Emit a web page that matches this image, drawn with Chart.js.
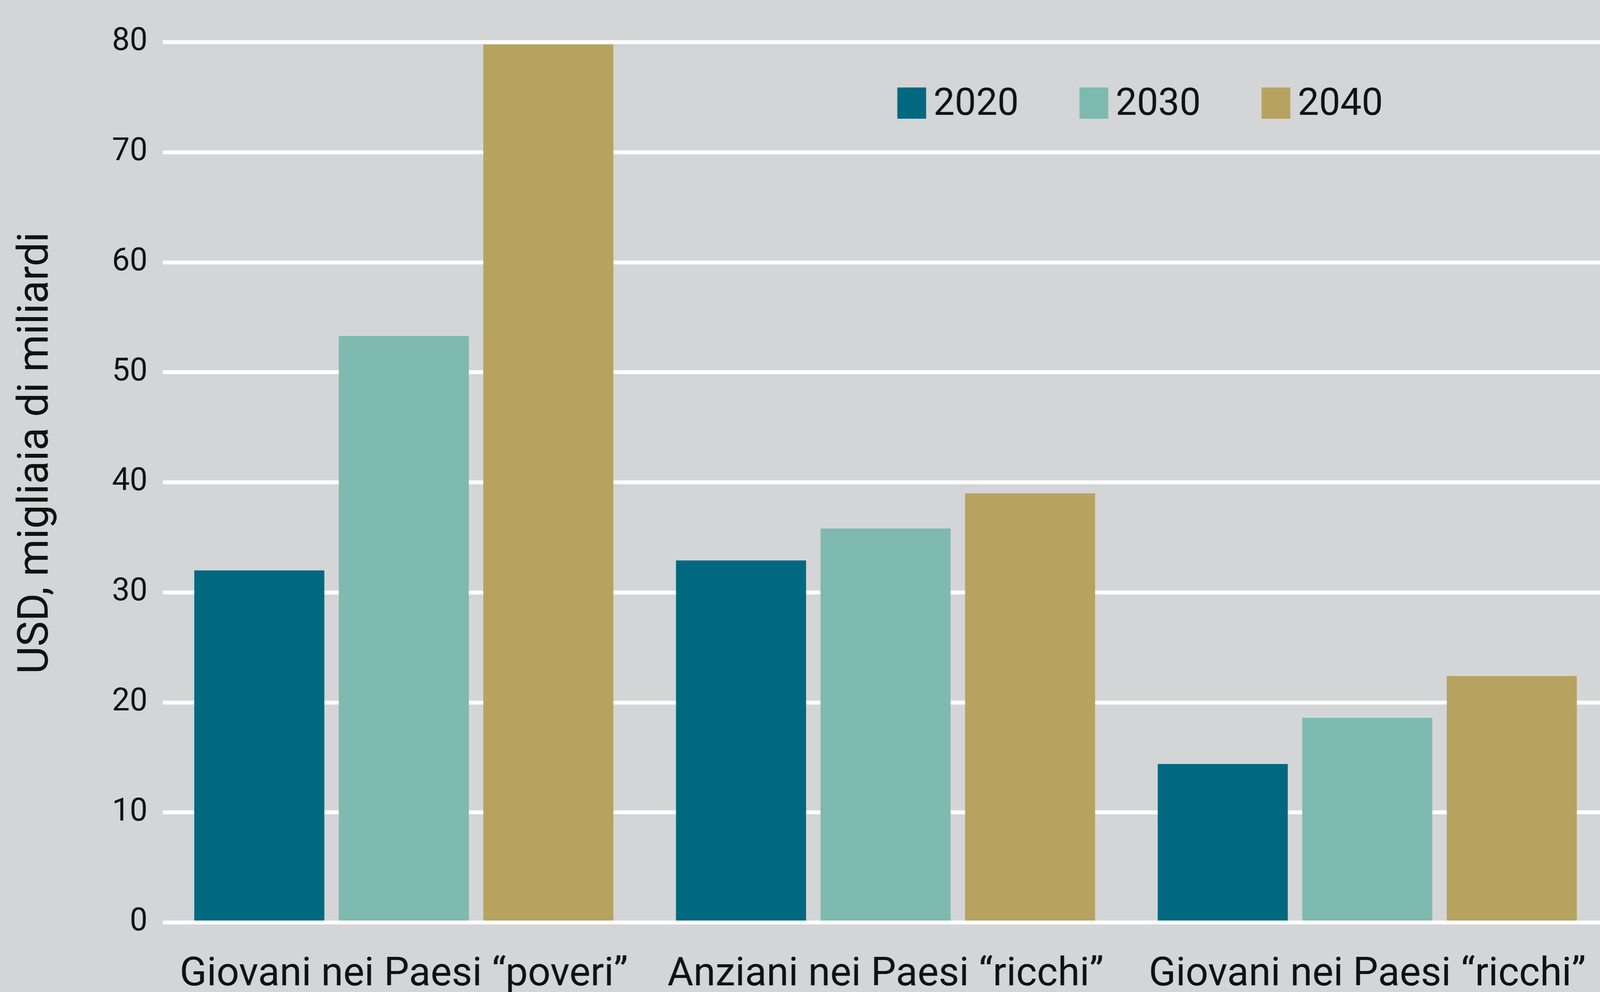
<!DOCTYPE html>
<html>
<head>
<meta charset="utf-8">
<script src="https://cdn.jsdelivr.net/npm/chart.js@4/dist/chart.umd.min.js"></script>
<style>
    html, body { margin: 0; padding: 0; background: #d4d5d7; overflow: hidden; }
    /* plot runs a little past the right edge, as in the original */
    #wrap { position: relative; width: calc(100vw * 4362 / 4341); height: 100vh; }
</style>
</head>
<body>
<div id="wrap"><canvas id="chart"></canvas></div>
<script>
// Chart data
const categories = ['Giovani nei Paesi \u201cpoveri\u201d', 'Anziani nei Paesi \u201cricchi\u201d', 'Giovani nei Paesi \u201cricchi\u201d'];
const years = ['2020', '2030', '2040'];
const values2020 = [32.0, 32.9, 14.4];
const values2030 = [53.3, 35.8, 18.6];
const values2040 = [79.8, 39.0, 22.4];
const yTicks = [0, 10, 20, 30, 40, 50, 60, 70, 80];
const yTitle = 'USD, migliaia di miliardi';

const colors = ['#006980', '#7ebaaf', '#b7a360'];
const fontFamily = 'Roboto, "Liberation Sans", sans-serif';

// everything below is laid out for a 4341 x 2540 page, scaled to the real window
const sx = window.innerWidth / 4341;
const sy = window.innerHeight / 2540;

// Background, y-axis title and legend are drawn by hand
const decorPlugin = {
    id: 'decor',
    beforeDraw(chart) {
        const c = chart.ctx;
        c.save();
        c.fillStyle = '#d4d5d7';
        c.fillRect(0, 0, chart.width, chart.height);
        c.restore();
    },
    afterDraw(chart) {
        const c = chart.ctx;
        c.save();
        c.fillStyle = '#111';
        c.font = Math.round(115 * sx) + 'px ' + fontFamily;
        c.textAlign = 'center';
        c.textBaseline = 'middle';
        c.translate(100 * sx, 1160 * sy);
        c.rotate(-Math.PI / 2);
        c.fillText(yTitle, 0, 0);
        c.restore();

        c.save();
        c.font = Math.round(103 * sx) + 'px ' + fontFamily;
        c.textBaseline = 'middle';
        c.textAlign = 'left';
        chart.data.datasets.forEach((ds, i) => {
            const x = (2434 + i * 494) * sx;
            c.fillStyle = ds.backgroundColor;
            c.fillRect(x, 224 * sy, 78 * sx, 80 * sy);
            c.fillStyle = '#111';
            c.fillText(ds.label, x + 98 * sx, 270 * sy);
        });
        c.restore();
    }
};

const ctx = document.getElementById('chart');
new Chart(ctx, {
    type: 'bar',
    data: {
        labels: categories,
        datasets: [
            { label: years[0], data: values2020, backgroundColor: colors[0] },
            { label: years[1], data: values2030, backgroundColor: colors[1] },
            { label: years[2], data: values2040, backgroundColor: colors[2] }
        ]
    },
    options: {
        responsive: true,
        maintainAspectRatio: false,
        animation: false,
        layout: { padding: { top: 108 * sy, right: 0, bottom: 0, left: 0 } },
        datasets: {
            bar: { categoryPercentage: 0.9, barPercentage: 0.9 }
        },
        plugins: {
            legend: { display: false },
            tooltip: { enabled: false }
        },
        scales: {
            x: {
                grid: { display: false, drawTicks: false },
                border: { display: false },
                ticks: {
                    color: '#111',
                    font: { family: fontFamily, size: Math.round(108 * sx) },
                    padding: 74 * sy,
                    maxRotation: 0,
                    autoSkip: false
                },
                afterFit(scale) {
                    scale.height = 178 * sy;
                    scale.paddingLeft = 0;
                    scale.paddingRight = 0;
                }
            },
            y: {
                min: 0,
                max: 80,
                afterBuildTicks(scale) { scale.ticks = yTicks.map(v => ({ value: v })); },
                grid: { color: '#ffffff', lineWidth: Math.max(1, 10 * sy), drawTicks: false },
                border: { display: false },
                ticks: {
                    color: '#111',
                    font: { family: fontFamily, size: Math.round(86 * sx) },
                    padding: 42 * sx
                },
                afterFit(scale) { scale.width = 442 * sx; }
            }
        }
    },
    plugins: [decorPlugin]
});
</script>
</body>
</html>
